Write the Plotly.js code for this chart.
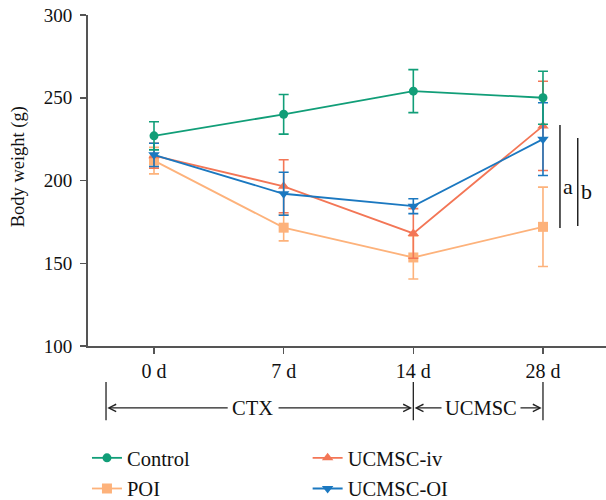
<!DOCTYPE html>
<html>
<head>
<meta charset="utf-8">
<script src="https://cdn.plot.ly/plotly-3.0.1.min.js"></script>
<style>html,body{margin:0;padding:0;background:#fff}#chart{width:606px;height:500px}</style>
</head>
<body>
<div id="chart"></div>
<script>
// ---- data ----
const categories = ["0 d", "7 d", "14 d", "28 d"];
const controlMean = [227, 240, 254, 250];
const controlErr  = [8.5, 12, 13, 16];
const poiMean     = [212, 171.5, 153.5, 172];
const poiErr      = [8, 8, 13, 24];
const ivMean      = [215, 196.5, 168, 233];
const ivErr       = [7.5, 16, 15, 27];
const oiMean      = [215.5, 192, 184.5, 225];
const oiErr       = [7, 13, 4.5, 22];
const seriesNames = ["Control", "POI", "UCMSC-iv", "UCMSC-OI"];
const yTicks = [100, 150, 200, 250, 300];
// significance bars: [x (category units), yLow, yHigh, label]
const sigBars = [[3.131, 171.3, 233.5, "a"], [3.268, 172.5, 225.7, "b"]];
// phase brackets (category units)
const phaseBounds = [-0.37, 2, 3];
const phaseLabels = ["CTX", "UCMSC"];
const phaseLabelPos = [0.763, 2.522];

const colors = {Control: "#119e78", POI: "#fdb27b", "UCMSC-iv": "#f37656", "UCMSC-OI": "#1b78c0"};
const xIdx = categories.map((c, i) => i);
const FONT = "Liberation Serif";

function mk(name, mean, err, symbol, size, leg) {
  return {
    type: "scatter", mode: "lines+markers", name: name, x: xIdx, y: mean,
    legend: leg, legendgroup: name,
    line: {color: colors[name], width: 1.8},
    marker: {color: colors[name], symbol: symbol, size: size},
    error_y: {type: "data", array: err, visible: true, color: colors[name], thickness: 1.6, width: 5}
  };
}
const traces = [
  mk("POI", poiMean, poiErr, "square", 10, "legend"),
  mk("UCMSC-iv", ivMean, ivErr, "triangle-up", 10, "legend2"),
  mk("UCMSC-OI", oiMean, oiErr, "triangle-down", 10, "legend2"),
  mk("Control", controlMean, controlErr, "circle", 9, "legend")
];
traces[0].legendrank = 2; traces[3].legendrank = 1;
traces[1].legendrank = 1; traces[2].legendrank = 2;

const shapes = [];
const annotations = [];
sigBars.forEach(s => {
  shapes.push({type: "line", xref: "x", yref: "y", x0: s[0], x1: s[0], y0: s[1], y1: s[2], line: {color: "#222", width: 1.5}});
  annotations.push({xref: "x", yref: "y", x: s[0] + 0.065, y: (s[1] + s[2]) / 2 - 6, text: s[3], showarrow: false,
    font: {family: FONT, size: 22, color: "#111"}});
});
// phase brackets
const yBr = -0.187;
phaseBounds.forEach(b => {
  shapes.push({type: "line", xref: "x", yref: "paper", x0: b, x1: b, y0: -0.109, y1: -0.224, line: {color: "#222", width: 1.3}});
});
phaseLabels.forEach((t, i) => {
  annotations.push({xref: "x", yref: "paper", x: phaseLabelPos[i], y: yBr, xanchor: "center", yanchor: "middle",
    text: t, showarrow: false, font: {family: FONT, size: 20.5, color: "#111"}, borderpad: 0});
});
// arrows: [tail, tip] in category units
[[0.58, -0.36], [0.949, 1.99], [2.229, 2.01], [2.815, 2.99]].forEach(p => {
  annotations.push({xref: "x", yref: "paper", axref: "x", ayref: "pixel", x: p[1], y: yBr, ax: p[0], ay: 0,
    text: "", showarrow: true, arrowhead: 5, arrowsize: 1.3, arrowwidth: 1.1, arrowcolor: "#222", standoff: 0, startstandoff: 0});
});
// y title
annotations.push({xref: "paper", yref: "paper", x: -0.135, y: 0.54, xanchor: "center", yanchor: "middle",
  text: "Body weight (g)", textangle: -90, showarrow: false, font: {family: FONT, size: 18.5, color: "#111"}});

const legFont = {family: FONT, size: 20.5, color: "#111"};
const layout = {
  width: 606, height: 500,
  margin: {l: 88, r: 0, t: 15, b: 154, autoexpand: false},
  paper_bgcolor: "#fff", plot_bgcolor: "#fff",
  font: {family: FONT, size: 18, color: "#111"},
  showlegend: true,
  legend: {orientation: "v", x: -0.002, y: -0.278, xanchor: "left", yanchor: "top", tracegroupgap: 1,
    font: legFont, bgcolor: "rgba(0,0,0,0)", itemwidth: 30},
  legend2: {orientation: "v", x: 0.424, y: -0.278, xanchor: "left", yanchor: "top", tracegroupgap: 1,
    font: legFont, bgcolor: "rgba(0,0,0,0)", itemwidth: 30},
  xaxis: {range: [-0.509, 3.486], tickvals: xIdx, ticktext: categories, showgrid: false, zeroline: false,
    showline: true, linecolor: "#555", linewidth: 2, ticks: "outside", ticklen: 6, tickwidth: 1.5, tickcolor: "#555",
    tickfont: {family: FONT, size: 20, color: "#111"}, ticklabelstandoff: 0},
  yaxis: {range: [100, 300], tickvals: yTicks, showgrid: false, zeroline: false,
    showline: true, linecolor: "#555", linewidth: 2, ticks: "outside", ticklen: 6, tickwidth: 1.5, tickcolor: "#555",
    tickfont: {family: FONT, size: 19, color: "#111"}, ticklabelstandoff: 4},
  shapes: shapes, annotations: annotations
};
Plotly.newPlot("chart", traces, layout, {displayModeBar: false, staticPlot: true});
</script>
</body>
</html>
